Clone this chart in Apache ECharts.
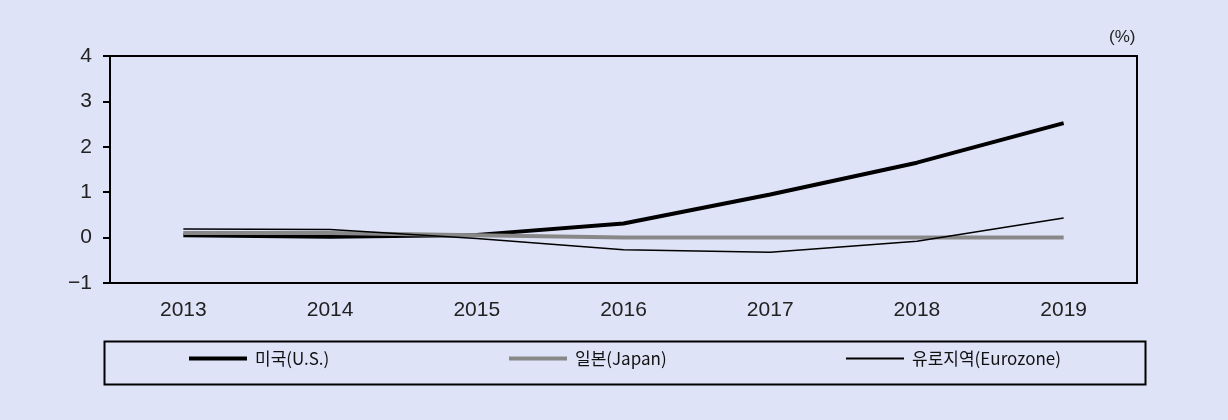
<!DOCTYPE html>
<html>
<head>
<meta charset="utf-8">
<script src="https://cdn.jsdelivr.net/npm/echarts@6/dist/echarts.min.js"></script>
<style>
html,body{margin:0;padding:0;background:#dfe3f7;}
#c{width:1228px;height:420px;}
</style>
</head>
<body>
<div id="c"></div>
<script>
var categories = ['2013','2014','2015','2016','2017','2018','2019'];
var usValues = [0.05, 0.02, 0.06, 0.31, 0.95, 1.65, 2.52];
var japanValues = [0.1, 0.1, 0.05, 0.0, 0.0, 0.0, 0.0];
var euroValues = [0.19, 0.18, -0.02, -0.27, -0.32, -0.08, 0.43];
var seriesNames = ['미국(U.S.)', '일본(Japan)', '유로지역(Eurozone)'];
var yTicks = [-1, 0, 1, 2, 3, 4];

var chart = echarts.init(document.getElementById('c'), null, {renderer:'canvas'});
var labelFont = '"Liberation Sans", Arial, sans-serif';
var legendText = {fontFamily:'Noto Sans CJK KR', fontSize:17, color:'#111', padding:[0,0,0,3]};
function legend(name, left, h){
  return {data:[name], left:left, top:350, icon:'rect', itemWidth:58, itemHeight:h,
    itemGap:0, padding:0, textStyle:legendText, selectedMode:false};
}
chart.setOption({
  backgroundColor:'#dfe3f7',
  animation:false,
  grid:{left:110, right:91, top:56, bottom:137, show:true, borderColor:'#000', borderWidth:2, backgroundColor:'transparent'},
  xAxis:{type:'category', data:categories, boundaryGap:true,
    axisLine:{show:true, onZero:false, lineStyle:{color:'#000', width:2}},
    axisTick:{show:false},
    axisLabel:{fontSize:21, color:'#222', fontFamily:labelFont, margin:17}},
  yAxis:{type:'value', min:yTicks[0], max:yTicks[yTicks.length-1], interval:1,
    splitLine:{show:false},
    axisLine:{show:true, lineStyle:{color:'#000', width:2}},
    axisTick:{show:true, inside:false, length:7, lineStyle:{color:'#000', width:2}},
    axisLabel:{fontSize:21, color:'#222', fontFamily:labelFont, margin:18,
      formatter:function(v){return v<0 ? '\u2212'+Math.abs(v) : String(v);}}},
  legend:[legend(seriesNames[0],189,4), legend(seriesNames[1],509,4), legend(seriesNames[2],846,2)],
  graphic:[
    {type:'rect', left:102, top:339, shape:{width:1041, height:43}, style:{fill:'none', stroke:'#000', lineWidth:2}},
    {type:'text', left:1109, top:29, style:{text:'(%)', fontSize:17, fill:'#222', fontFamily:labelFont}}
  ],
  series:[
    {name:seriesNames[0], type:'line', data:usValues, symbol:'none', lineStyle:{color:'#000', width:4}, itemStyle:{color:'#000'}, z:2},
    {name:seriesNames[1], type:'line', data:japanValues, symbol:'none', lineStyle:{color:'#888', width:4}, itemStyle:{color:'#888'}, z:3},
    {name:seriesNames[2], type:'line', data:euroValues, symbol:'none', lineStyle:{color:'#000', width:1.5}, itemStyle:{color:'#000'}, z:4}
  ]
});
</script>
</body>
</html>
